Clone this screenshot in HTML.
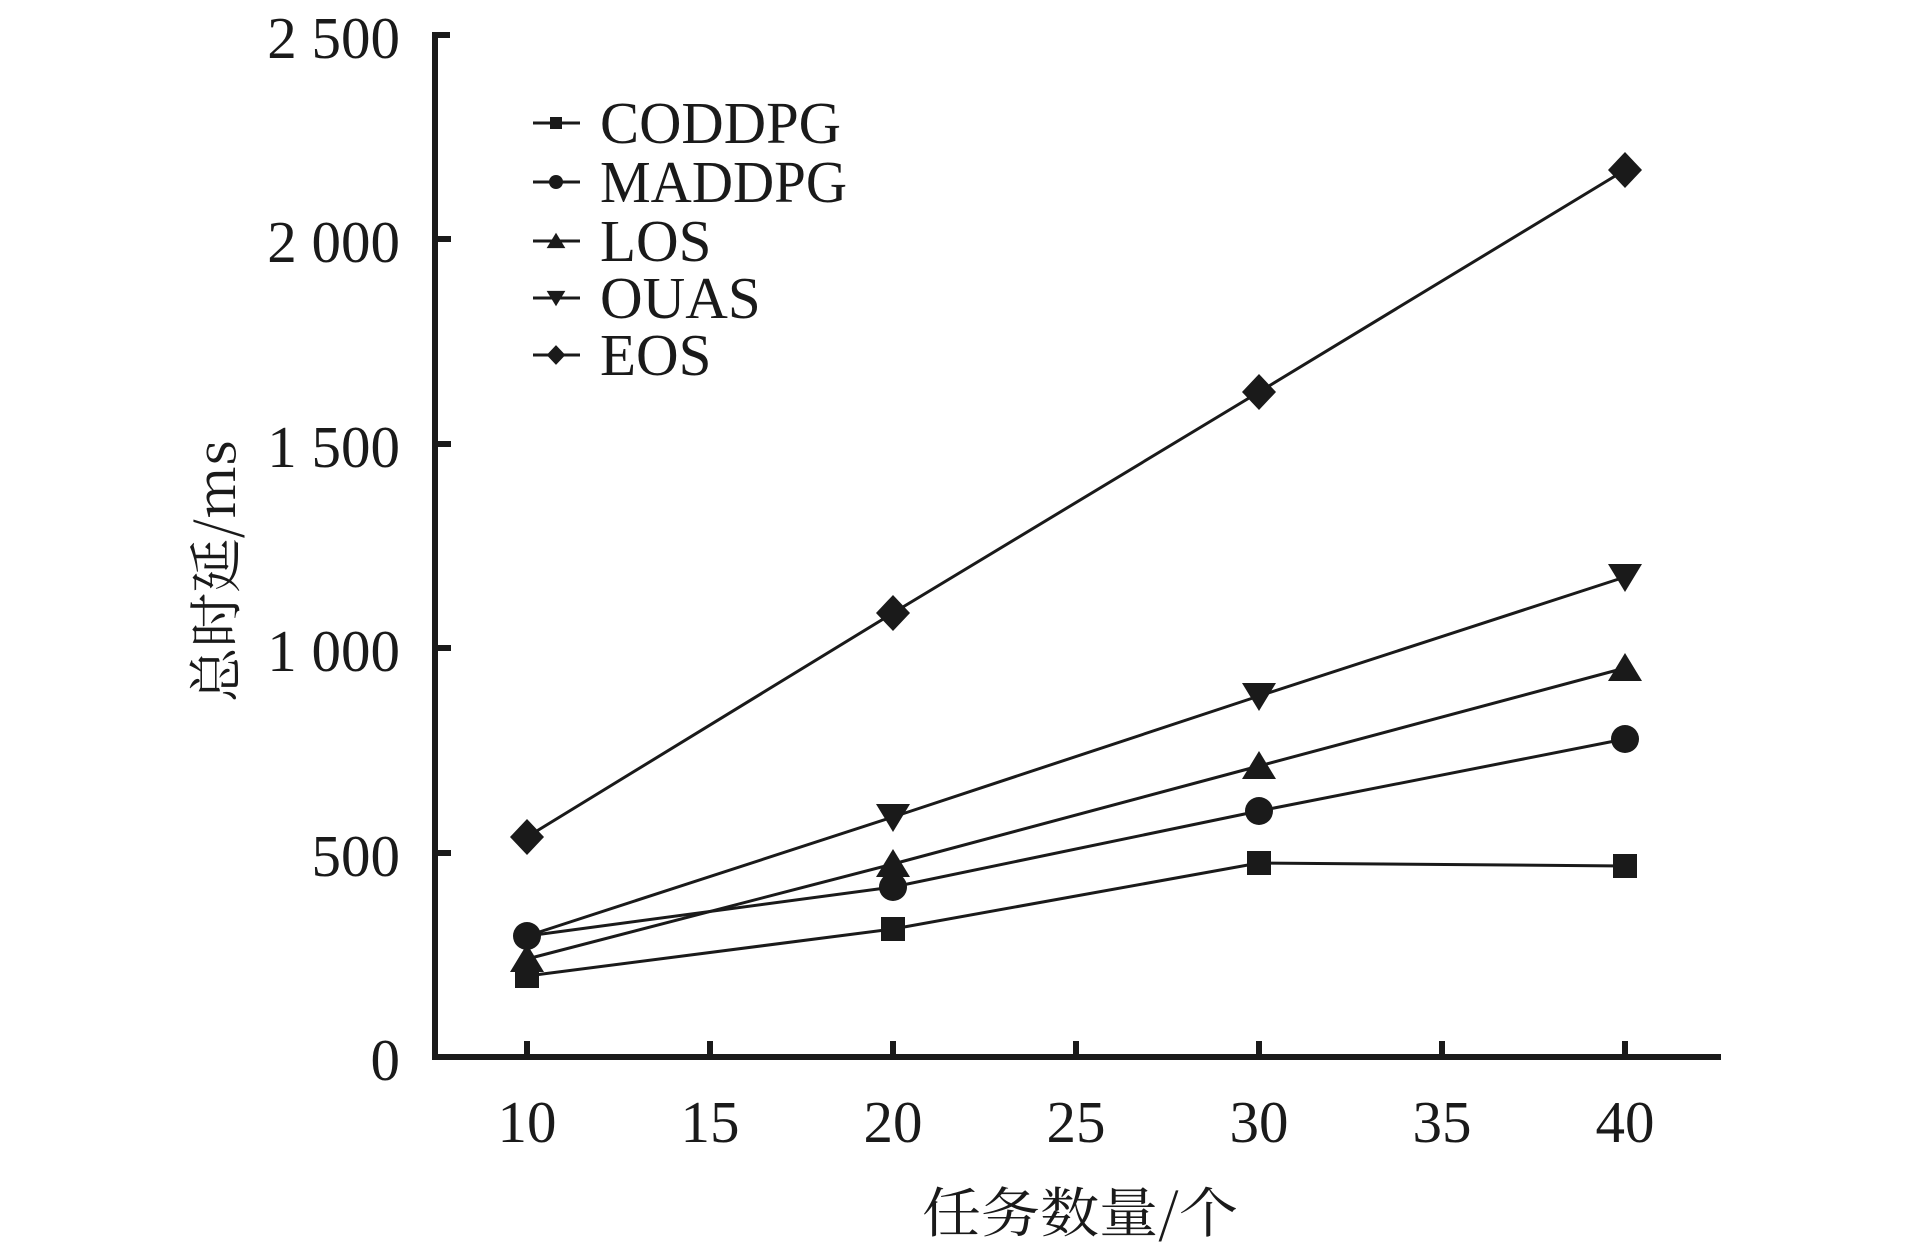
<!DOCTYPE html>
<html><head><meta charset="utf-8"><style>
html,body{margin:0;padding:0;background:#fff;}
svg{display:block;}
text{fill:#1a1a1a;}
.t{font-family:"Liberation Serif","Noto Serif CJK SC",serif;font-size:59px;}
.c{font-family:"Noto Serif CJK SC","Liberation Serif",serif;font-size:54px;}
</style></head><body>
<svg width="1913" height="1252" viewBox="0 0 1913 1252" xmlns="http://www.w3.org/2000/svg">
<defs>
<rect id="sq" x="-12" y="-12" width="24" height="24" fill="#1a1a1a"/>
<ellipse id="ci" cx="0" cy="0" rx="14" ry="14" fill="#1a1a1a"/>
<polygon id="tu" points="0,-15 17,13 -17,13" fill="#1a1a1a"/>
<polygon id="td" points="0,15 17,-13 -17,-13" fill="#1a1a1a"/>
<polygon id="di" points="0,-18 17,0 0,18 -17,0" fill="#1a1a1a"/>
</defs>
<g stroke="#1a1a1a" fill="none">
<path d="M450 35 L435 35 L435 1057 L1721 1057" stroke-width="6"/>
<g stroke-width="6">
<line x1="435" y1="239" x2="451" y2="239"/>
<line x1="435" y1="444" x2="451" y2="444"/>
<line x1="435" y1="648" x2="451" y2="648"/>
<line x1="435" y1="853" x2="451" y2="853"/>
<line x1="527" y1="1057" x2="527" y2="1041"/>
<line x1="710" y1="1057" x2="710" y2="1041"/>
<line x1="893" y1="1057" x2="893" y2="1041"/>
<line x1="1076" y1="1057" x2="1076" y2="1041"/>
<line x1="1259" y1="1057" x2="1259" y2="1041"/>
<line x1="1442" y1="1057" x2="1442" y2="1041"/>
<line x1="1625" y1="1057" x2="1625" y2="1041"/>
</g>
<g stroke-width="3">
<polyline points="527,837 893,613 1259,392 1625,170"/>
<polyline points="527,936 893,817 1259,696 1625,577"/>
<polyline points="527,959 893,864 1259,766 1625,668"/>
<polyline points="527,936 893,887 1259,811 1625,739"/>
<polyline points="527,976 893,929 1259,863 1625,866"/>
<line x1="533" y1="123" x2="580" y2="123"/>
<line x1="533" y1="182" x2="580" y2="182"/>
<line x1="533" y1="241" x2="580" y2="241"/>
<line x1="533" y1="298" x2="580" y2="298"/>
<line x1="533" y1="355" x2="580" y2="355"/>
</g>
</g>
<use href="#di" x="527" y="837"/><use href="#di" x="893" y="613"/><use href="#di" x="1259" y="392"/><use href="#di" x="1625" y="170"/>
<use href="#td" x="893" y="817"/><use href="#td" x="1259" y="696"/><use href="#td" x="1625" y="577"/>
<use href="#tu" x="527" y="959"/><use href="#tu" x="893" y="864"/><use href="#tu" x="1259" y="766"/><use href="#tu" x="1625" y="668"/>
<use href="#ci" x="527" y="936"/><use href="#ci" x="893" y="887"/><use href="#ci" x="1259" y="811"/><use href="#ci" x="1625" y="739"/>
<use href="#sq" x="527" y="976"/><use href="#sq" x="893" y="929"/><use href="#sq" x="1259" y="863"/><use href="#sq" x="1625" y="866"/>
<g transform="translate(556,123) scale(0.5)"><use href="#sq"/></g>
<g transform="translate(556,182) scale(0.5)"><use href="#ci"/></g>
<g transform="translate(556,241) scale(0.55)"><use href="#tu"/></g>
<g transform="translate(556,298) scale(0.55)"><use href="#td"/></g>
<g transform="translate(556,355) scale(0.55)"><use href="#di"/></g>
<g class="t">
<text x="600" y="143" textLength="241" lengthAdjust="spacingAndGlyphs">CODDPG</text>
<text x="600" y="202" textLength="247" lengthAdjust="spacingAndGlyphs">MADDPG</text>
<text x="600" y="261">LOS</text>
<text x="600" y="318">OUAS</text>
<text x="600" y="375">EOS</text>
</g>
<g class="t" text-anchor="end">
<text x="400" y="58">2 500</text>
<text x="400" y="262">2 000</text>
<text x="400" y="467">1 500</text>
<text x="400" y="671">1 000</text>
<text x="400" y="876">500</text>
<text x="400" y="1080">0</text>
</g>
<g class="t" text-anchor="middle">
<text x="527" y="1142">10</text>
<text x="710" y="1142">15</text>
<text x="893" y="1142">20</text>
<text x="1076" y="1142">25</text>
<text x="1259" y="1142">30</text>
<text x="1442" y="1142">35</text>
<text x="1625" y="1142">40</text>
</g>
<text class="c" x="1080" y="1232" text-anchor="middle" textLength="316" lengthAdjust="spacingAndGlyphs">任务数量/个</text>
<text class="c" x="0" y="0" text-anchor="middle" transform="translate(235,571) rotate(-90)" textLength="262" lengthAdjust="spacingAndGlyphs">总时延/ms</text>
</svg>
</body></html>
